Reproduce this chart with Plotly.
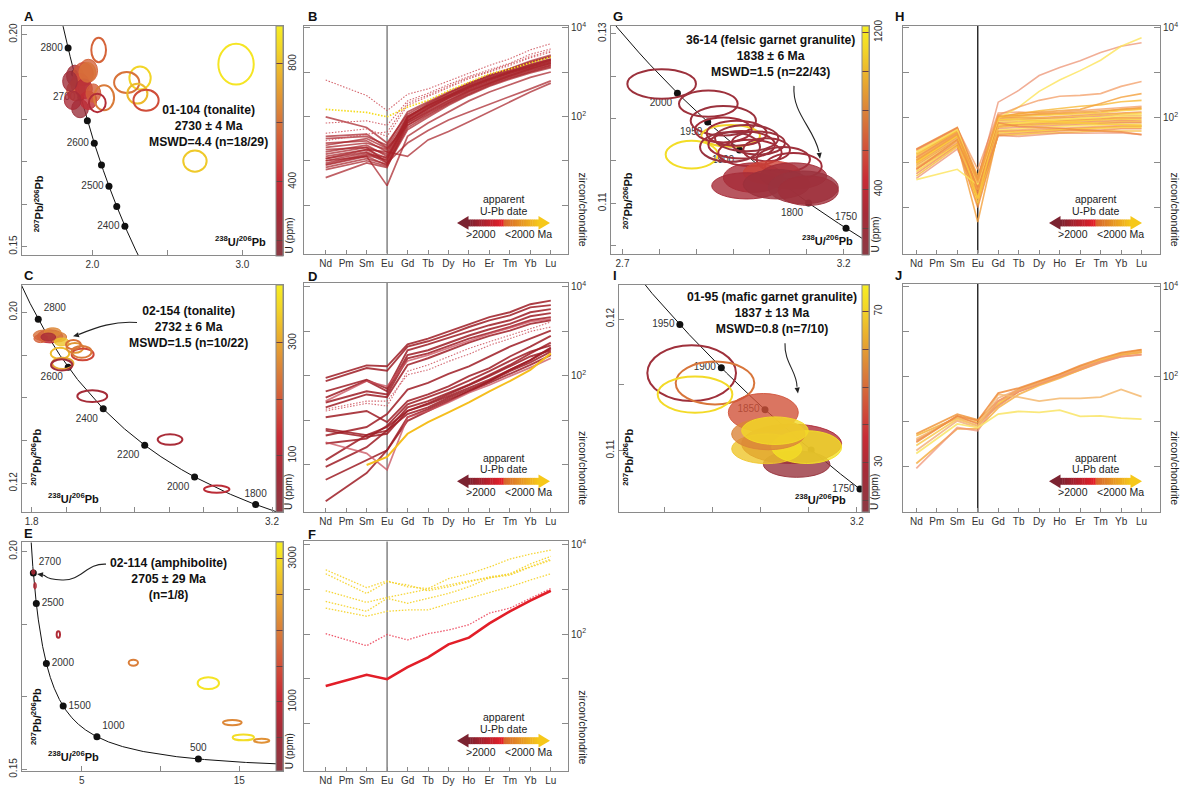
import re
import numpy as np
import plotly.graph_objects as go
from plotly.colors import sample_colorscale

W, H = 1188, 795
FONT = "Arial, Liberation Sans, Helvetica, sans-serif"
AX = "#8a8a8a"
DOT = "1.5px,1.6px"

# ======================= DATA =======================
REE_LABELS = ["Nd", "Pm", "Sm", "Eu", "Gd", "Tb", "Dy", "Ho", "Er", "Tm", "Yb", "Lu"]
MEASURED = ["Nd", "Sm", "Eu", "Gd", "Tb", "Dy", "Ho", "Er", "Tm", "Yb", "Lu"]

# REE patterns, log10(zircon/chondrite), order = MEASURED
B_SOLID = [
    [1.99, 1.75, 1.40, 2.05, 2.30, 2.52, 2.72, 2.90, 3.05, 3.22, 3.35],
    [1.55, 1.60, 1.30, 2.00, 2.25, 2.48, 2.68, 2.85, 3.00, 3.15, 3.28],
    [1.50, 1.55, 1.35, 2.10, 2.33, 2.55, 2.75, 2.93, 3.08, 3.25, 3.38],
    [1.40, 1.45, 1.20, 1.95, 2.22, 2.45, 2.65, 2.83, 2.98, 3.12, 3.25],
    [1.30, 1.40, 1.25, 1.90, 2.18, 2.42, 2.62, 2.80, 2.96, 3.10, 3.22],
    [1.20, 1.35, 1.10, 1.88, 2.15, 2.40, 2.60, 2.78, 2.94, 3.08, 3.20],
    [1.15, 1.30, 1.15, 2.00, 2.25, 2.48, 2.70, 2.88, 3.02, 3.18, 3.30],
    [1.10, 1.25, 1.05, 1.85, 2.12, 2.36, 2.58, 2.76, 2.92, 3.06, 3.18],
    [1.05, 1.20, 1.00, 1.92, 2.20, 2.44, 2.66, 2.84, 3.00, 3.14, 3.27],
    [1.00, 1.18, 0.95, 1.80, 2.08, 2.32, 2.55, 2.74, 2.90, 3.04, 3.15],
    [0.95, 1.15, 1.08, 1.98, 2.24, 2.46, 2.68, 2.86, 3.02, 3.16, 3.28],
    [0.90, 1.10, 0.90, 1.75, 2.02, 2.28, 2.50, 2.70, 2.86, 3.00, 3.12],
    [0.85, 1.05, 0.92, 1.90, 2.18, 2.42, 2.64, 2.82, 2.98, 3.12, 3.24],
    [0.80, 1.00, 0.88, 1.70, 1.98, 2.25, 2.48, 2.68, 2.84, 2.98, 3.10],
    [0.62, 0.95, 0.85, 1.85, 2.10, 2.35, 2.57, 2.75, 2.92, 3.07, 3.20],
    [1.00, 1.10, 0.44, 1.55, 1.85, 2.10, 2.35, 2.55, 2.72, 2.88, 3.00],
    [1.05, 1.25, 1.20, 1.10, 1.47, 1.66, 1.88, 2.10, 2.33, 2.55, 2.75],
    [1.25, 1.30, 0.95, 1.40, 1.68, 1.92, 2.10, 2.28, 2.45, 2.62, 2.80],
    [1.35, 1.50, 1.28, 1.80, 2.05, 2.30, 2.52, 2.72, 2.88, 3.02, 3.15],
    [0.92, 1.12, 1.02, 1.96, 2.28, 2.52, 2.74, 2.92, 3.07, 3.22, 3.35],
]
B_DOTTED = [
    [2.82, 2.47, 2.13, 2.50, 2.62, 2.80, 2.98, 3.15, 3.30, 3.50, 3.64],
    [1.85, 1.90, 1.80, 2.35, 2.52, 2.72, 2.90, 3.05, 3.20, 3.40, 3.52],
    [1.62, 1.72, 1.55, 2.25, 2.45, 2.65, 2.85, 3.00, 3.15, 3.32, 3.45],
    [1.45, 1.60, 1.65, 2.30, 2.48, 2.68, 2.88, 3.02, 3.18, 3.35, 3.48],
]
B_YOUNG = [
    [2.16, 2.09, 1.99, 2.21, 2.36, 2.58, 2.77, 2.96, 3.07, 3.21, 3.34],
]

D_SOLID = [
    [1.95, 2.23, 2.21, 2.70, 2.83, 2.99, 3.16, 3.31, 3.42, 3.60, 3.68],
    [1.88, 2.17, 2.11, 2.65, 2.77, 2.92, 3.09, 3.24, 3.35, 3.53, 3.58],
    [1.65, 1.91, 1.71, 2.57, 2.70, 2.85, 2.99, 3.13, 3.24, 3.42, 3.49],
    [1.51, 1.89, 1.65, 2.46, 2.57, 2.74, 2.90, 3.04, 3.16, 3.33, 3.40],
    [1.40, 1.65, 1.58, 2.39, 2.50, 2.67, 2.83, 2.96, 3.09, 3.24, 3.31],
    [1.29, 1.58, 1.52, 2.24, 2.39, 2.57, 2.74, 2.89, 3.01, 3.16, 3.24],
    [1.07, 1.21, 0.96, 1.43, 1.58, 1.76, 1.99, 2.17, 2.43, 2.65, 2.89],
    [0.81, 0.67, 0.77, 1.29, 1.43, 1.62, 1.80, 2.02, 2.24, 2.50, 2.74],
    [0.77, 0.63, 0.70, 1.21, 1.36, 1.54, 1.73, 1.91, 2.13, 2.35, 2.63],
    [0.48, 0.59, 0.88, 1.36, 1.52, 1.69, 1.89, 2.10, 2.33, 2.54, 2.68],
    [0.11, 0.67, 0.85, 1.21, 1.38, 1.58, 1.79, 1.99, 2.21, 2.43, 2.57],
    [-0.04, 0.40, 0.77, 1.14, 1.29, 1.51, 1.69, 1.88, 2.10, 2.30, 2.54],
    [-0.33, 0.11, 0.33, 0.99, 1.21, 1.43, 1.65, 1.84, 2.04, 2.24, 2.46],
    [-0.81, -0.18, 0.33, 1.07, 1.25, 1.47, 1.65, 1.88, 2.13, 2.35, 2.61],
    [0.66, 0.85, 1.14, 1.69, 1.84, 2.04, 2.21, 2.43, 2.65, 2.83, 3.01],
]
D_LIGHT = [
    [1.43, 1.88, 1.76, 2.33, 2.46, 2.62, 2.79, 2.94, 3.07, 3.21, 3.27],
    [0.51, 0.26, -0.11, 1.07, 1.21, 1.40, 1.62, 1.79, 1.99, 2.18, 2.39],
]
D_DOTTED = [
    [1.21, 1.38, 1.32, 2.10, 2.24, 2.43, 2.61, 2.76, 2.90, 3.05, 3.20],
    [1.25, 1.43, 1.43, 2.02, 2.13, 2.32, 2.48, 2.68, 2.83, 2.99, 3.09],
]
D_YOUNG = [
    [None, 0.00, 0.18, 0.70, 0.96, 1.18, 1.40, 1.65, 1.88, 2.13, 2.50],
]

F_YOUNG_DOTTED = [
    [3.44, 3.04, 3.19, 3.06, 3.02, 3.24, 3.35, 3.50, 3.68, 3.79, 3.88],
    [3.35, 2.91, 3.17, 3.10, 2.97, 3.06, 3.17, 3.28, 3.35, 3.57, 3.74],
    [2.97, 2.71, 2.82, 2.91, 3.00, 3.10, 3.19, 3.26, 3.34, 3.51, 3.68],
    [2.73, 2.51, 2.80, 2.69, 2.80, 2.91, 3.06, 3.26, 3.32, 3.50, 3.65],
    [2.58, 2.40, 2.51, 2.54, 2.54, 2.68, 2.80, 2.93, 3.06, 3.21, 3.35],
]
F_OLD_DOTTED = [
    [2.01, 1.74, 1.99, 1.87, 2.01, 2.09, 2.21, 2.47, 2.58, 2.80, 3.02],
]
F_OLD_SOLID = [
    [0.84, 1.09, 0.99, 1.26, 1.48, 1.77, 1.92, 2.24, 2.51, 2.75, 2.97],
]

H_LINES = [
    [1.30, 1.78, 0.70, 2.05, 2.05, 2.06, 2.08, 2.10, 2.12, 2.18, 2.22],
    [1.25, 1.75, 0.55, 2.00, 2.02, 2.04, 2.05, 2.08, 2.10, 2.15, 2.18],
    [1.20, 1.72, 0.60, 1.98, 2.00, 2.00, 2.02, 2.05, 2.08, 2.10, 2.12],
    [1.15, 1.70, 0.50, 1.95, 1.98, 1.98, 2.00, 2.02, 2.05, 2.08, 2.10],
    [1.10, 1.68, 0.45, 1.92, 1.95, 1.96, 1.98, 2.00, 2.02, 2.05, 2.05],
    [1.08, 1.65, 0.65, 1.90, 1.92, 1.95, 1.96, 1.98, 2.00, 2.02, 2.03],
    [1.05, 1.62, 0.40, 1.88, 1.90, 1.92, 1.94, 1.96, 1.98, 2.00, 2.00],
    [1.02, 1.60, 0.35, 1.85, 1.88, 1.90, 1.92, 1.94, 1.96, 1.98, 1.98],
    [1.00, 1.58, 0.55, 1.82, 1.86, 1.88, 1.90, 1.92, 1.94, 1.96, 1.95],
    [0.98, 1.55, 0.30, 1.80, 1.84, 1.86, 1.88, 1.90, 1.92, 1.93, 1.92],
    [0.95, 1.52, 0.25, 1.78, 1.82, 1.84, 1.86, 1.87, 1.88, 1.90, 1.90],
    [0.92, 1.50, 0.20, 1.75, 1.78, 1.80, 1.82, 1.84, 1.86, 1.88, 1.88],
    [0.90, 1.48, 0.10, 1.72, 1.75, 1.78, 1.80, 1.82, 1.84, 1.85, 1.85],
    [0.88, 1.45, 0.15, 1.70, 1.72, 1.75, 1.76, 1.78, 1.80, 1.82, 1.82],
    [0.85, 1.42, -0.32, 1.68, 1.70, 1.72, 1.74, 1.76, 1.78, 1.80, 1.80],
    [0.80, 1.40, 0.05, 1.65, 1.68, 1.70, 1.72, 1.74, 1.75, 1.78, 1.78],
    [0.75, 1.38, 0.00, 1.62, 1.65, 1.68, 1.70, 1.72, 1.72, 1.75, 1.75],
    [0.70, 1.35, 0.20, 1.60, 1.62, 1.65, 1.66, 1.68, 1.70, 1.70, 1.70],
    [0.65, 1.30, 0.30, 1.60, 1.58, 1.62, 1.65, 1.65, 1.66, 1.66, 1.62],
    [0.62, 0.85, 0.50, 1.85, 1.88, 1.92, 1.95, 1.98, 2.00, 2.05, 2.08],
    [1.28, 1.76, 0.85, 2.10, 2.12, 2.10, 2.12, 2.15, 2.18, 2.22, 2.25],
    [1.12, 1.66, 0.40, 2.02, 2.04, 2.08, 2.10, 2.12, 2.15, 2.18, 2.20],
    [1.00, 1.60, 0.20, 1.95, 1.95, 1.92, 1.90, 1.88, 1.85, 1.85, 1.82],
    [0.85, 1.50, 0.45, 1.88, 1.80, 1.78, 1.76, 1.72, 1.70, 1.68, 1.62],
    [1.18, 1.70, 0.65, 2.00, 2.08, 2.15, 2.20, 2.25, 2.28, 2.35, 2.38],
    [1.29, 1.77, 0.63, 2.34, 2.60, 2.93, 3.11, 3.26, 3.44, 3.58, 3.66],
    [1.21, 1.73, 0.52, 1.98, 2.23, 2.58, 2.83, 3.04, 3.27, 3.58, 3.77],
    [1.10, 1.65, 0.55, 2.05, 2.23, 2.38, 2.47, 2.49, 2.53, 2.69, 2.80],
    [1.05, 1.62, 0.60, 2.01, 2.09, 2.12, 2.15, 2.18, 2.31, 2.45, 2.53],
]

J_LINES = [
    [0.72, 1.16, 1.03, 1.45, 1.71, 1.87, 2.04, 2.22, 2.37, 2.51, 2.59],
    [0.68, 1.08, 0.97, 1.38, 1.67, 1.83, 2.00, 2.18, 2.34, 2.48, 2.55],
    [0.57, 1.12, 0.94, 1.34, 1.66, 1.82, 1.98, 2.15, 2.31, 2.44, 2.49],
    [0.46, 1.05, 0.90, 1.41, 1.69, 1.85, 2.02, 2.20, 2.37, 2.51, 2.56],
    [0.35, 1.01, 0.86, 1.52, 1.71, 1.88, 2.04, 2.21, 2.34, 2.49, 2.55],
    [0.06, 0.83, 0.83, 1.30, 1.60, 1.80, 1.96, 2.15, 2.33, 2.48, 2.53],
    [-0.05, 0.86, 0.79, 1.45, 1.67, 1.83, 2.00, 2.17, 2.33, 2.44, 2.48],
    [0.61, 1.08, 0.90, 1.60, 1.54, 1.45, 1.51, 1.51, 1.54, 1.71, 1.55],
    [0.28, 0.94, 0.86, 1.16, 1.22, 1.20, 1.25, 1.11, 1.12, 1.07, 1.05],
    [0.53, 1.12, 1.01, 1.63, 1.74, 1.89, 2.05, 2.24, 2.40, 2.53, 2.60],
]

# Tera-Wasserburg constants
LAMBDA_238 = 1.55125e-4   # 1/Ma
LAMBDA_235 = 9.8485e-4    # 1/Ma
U238_U235 = 137.88

# Concordia age markers
A_AGES = [2400, 2450, 2500, 2550, 2600, 2650, 2700, 2750, 2800]
A_AGE_TEXT = ["2400", "", "2500", "", "2600", "", "2700", "", "2800"]
C_AGES = [1800, 2000, 2200, 2400, 2600, 2800]
C_AGE_TEXT = ["1800", "2000", "2200", "2400", "2600", "2800"]
E_AGES = [500, 1000, 1500, 2000, 2500, 2700]
E_AGE_TEXT = ["500", "1000", "1500", "2000", "2500", "2700"]
G_AGES = [1750, 1800, 1850, 1900, 1950, 2000]
G_AGE_TEXT = ["1750", "1800", "", "1900", "1950", "2000"]
I_AGES = [1750, 1800, 1850, 1900, 1950]
I_AGE_TEXT = ["1750", "", "1850", "1900", "1950"]

# Error ellipses: centre (238U/206Pb, 207Pb/206Pb), half-axes, U (ppm), filled?
A_X = [1.884, 1.973, 1.940, 1.918, 1.891, 1.944, 1.918, 1.973, 2.007, 1.869, 1.851, 1.967,
       2.958, 2.042, 2.318, 2.229, 2.300, 2.358, 2.078, 2.033, 2.684]
A_Y = [0.19031, 0.19147, 0.19070, 0.18837, 0.18682, 0.18721, 0.18256, 0.18450, 0.18620, 0.18450, 0.18899, 0.19109,
       0.19302, 0.19636, 0.18977, 0.18868, 0.18605, 0.18450, 0.18512, 0.18388, 0.17016]
A_SX = [0.056, 0.062, 0.067, 0.062, 0.062, 0.056, 0.056, 0.056, 0.049, 0.056, 0.049, 0.056,
        0.118, 0.049, 0.071, 0.084, 0.067, 0.084, 0.067, 0.056, 0.078]
A_SY = [0.00248, 0.00271, 0.00271, 0.00248, 0.00248, 0.00233, 0.00217, 0.00217, 0.00217, 0.00217, 0.00233, 0.00233,
        0.0048, 0.00287, 0.00271, 0.00248, 0.00233, 0.00248, 0.00295, 0.00217, 0.00248]
A_U = [250, 560, 520, 480, 530, 350, 230, 380, 540, 300, 260, 600,
       900, 560, 850, 600, 780, 500, 620, 330, 820]
A_FILLED = [1] * 12 + [0] * 9

C_X = [1.907, 1.868, 1.950, 1.975, 1.852, 1.922, 1.897,
       1.965, 2.052, 2.097, 2.043, 1.981, 1.975, 2.153, 2.606, 2.878, 2.091]
C_Y = [0.18877, 0.18923, 0.18846, 0.18615, 0.18769, 0.19077, 0.18846,
       0.18077, 0.18338, 0.18031, 0.18492, 0.17615, 0.17538, 0.16077, 0.14046, 0.11723, 0.18154]
C_SX = [0.074, 0.058, 0.054, 0.043, 0.039, 0.049, 0.043,
        0.054, 0.049, 0.064, 0.043, 0.062, 0.062, 0.087, 0.072, 0.074, 0.058]
C_SY = [0.00308, 0.00246, 0.00231, 0.00185, 0.00185, 0.0020, 0.00185,
        0.00262, 0.00231, 0.00277, 0.00215, 0.00262, 0.00262, 0.00277, 0.00246, 0.00169, 0.00277]
C_U = [120, 230, 250, 340, 210, 260, 80,
       330, 280, 170, 230, 300, 60, 70, 80, 110, 240]
C_FILLED = [1] * 7 + [0] * 10

E_X = [1.922, 2.028, 3.509, 8.271, 13.033, 14.557, 15.255, 16.419]
E_Y = [0.18588, 0.17638, 0.14289, 0.12344, 0.10941, 0.08226, 0.07208, 0.06982]
E_SX = [0.106, 0.085, 0.106, 0.296, 0.677, 0.593, 0.677, 0.487]
E_SY = [0.00158, 0.00226, 0.00226, 0.00204, 0.00407, 0.00181, 0.00204, 0.00136]
E_U = [800, 750, 750, 2000, 3100, 2100, 3000, 2200]
E_FILLED = [1, 1, 0, 0, 0, 0, 0, 0]

G_X = [2.7062, 2.8328, 2.8735, 2.7876, 2.8934, 2.9096, 2.9368, 2.9232, 2.9684, 2.9910, 2.8916, 2.9458,
       3.0362, 3.0634, 2.8735, 2.9549, 3.0046, 2.9368, 3.0634, 3.0181, 3.0905, 3.1040]
G_Y = [0.12408, 0.12175, 0.11973, 0.11574, 0.11795, 0.11826, 0.11768, 0.11690, 0.11710, 0.11632, 0.11663, 0.11594,
       0.11516, 0.11438, 0.11865, 0.11303, 0.11361, 0.11206, 0.11322, 0.11225, 0.11187, 0.11148]
G_SX = [0.0931, 0.0796, 0.0886, 0.0705, 0.0796, 0.0814, 0.0859, 0.0904, 0.0723, 0.0633, 0.0814, 0.0859,
        0.0723, 0.0769, 0.0769, 0.0814, 0.0769, 0.0949, 0.0904, 0.0904, 0.0949, 0.0814]
G_SY = [0.00174, 0.00155, 0.00174, 0.00163, 0.00128, 0.00147, 0.00155, 0.00163, 0.00136, 0.00136, 0.00174, 0.00155,
        0.00147, 0.00155, 0.00147, 0.00174, 0.00136, 0.00155, 0.00155, 0.00174, 0.00194, 0.00174]
G_U = [200, 210, 190, 1150, 1100, 230, 180, 240, 200, 220, 170, 260,
       210, 230, 250, 300, 550, 280, 260, 200, 180, 220]
G_FILLED = [0] * 15 + [1] * 7

I_X = [2.8556, 2.9042, 2.8626, 3.0639, 3.0743, 3.0049, 3.0119, 3.0952, 3.0153, 3.0292]
I_Y = [0.11589, 0.11514, 0.11426, 0.11051, 0.10896, 0.11289, 0.11013, 0.11026, 0.11126, 0.11151]
I_SX = [0.0924, 0.0819, 0.0778, 0.1042, 0.0694, 0.0729, 0.0729, 0.0729, 0.0764, 0.0694]
I_SY = [0.00213, 0.00163, 0.00138, 0.0015, 0.001, 0.00145, 0.00113, 0.00125, 0.0012, 0.00105]
I_U = [25, 52, 72, 30, 22, 45, 68, 74, 55, 72]
I_FILLED = [0, 0, 0, 1, 1, 1, 1, 1, 1, 1]

# ======================= STYLE / LAYOUT =======================
U_SCALE = [[0.0, "rgb(140,58,68)"], [0.18, "rgb(166,44,56)"], [0.33, "rgb(200,44,54)"],
           [0.48, "rgb(210,86,58)"], [0.62, "rgb(218,128,58)"], [0.78, "rgb(234,176,46)"],
           [0.9, "rgb(242,214,40)"], [1.0, "rgb(247,238,34)"]]

BOX = {  # left, top, right, bottom (px)
    1: (22, 21, 283, 254), 2: (304, 21, 568, 252),
    3: (22, 284, 283, 514), 4: (304, 282, 568, 514),
    5: (22, 545, 283, 777), 6: (304, 544, 568, 777),
    7: (611, 21, 869, 253), 8: (903, 21, 1160, 252),
    9: (619, 284, 869, 514), 10: (903, 283, 1160, 514),
}

fig = go.Figure()
layout = dict(width=W, height=H, margin=dict(l=0, r=0, t=0, b=0),
              paper_bgcolor="white", plot_bgcolor="white", showlegend=False,
              font=dict(family=FONT, size=10, color="#333"))
shapes, annotations = [], []


def refs(n):
    s = "" if n == 1 else str(n)
    return "xaxis" + s, "yaxis" + s, "x" + s, "y" + s


def domain(n):
    l, t, r, b = BOX[n]
    return [l / W, r / W], [1 - b / H, 1 - t / H]


def pp(px, py):
    return px / W, 1 - py / H


def ann(px, py, text, size=10, xanchor="center", yanchor="middle", angle=0, color="#222"):
    x, y = pp(px, py)
    annotations.append(dict(x=x, y=y, xref="paper", yref="paper", text=text, showarrow=False,
                            xanchor=xanchor, yanchor=yanchor, textangle=angle,
                            font=dict(family=FONT, size=size, color=color)))


def ucolor(u, lo, hi, alpha=1.0):
    t = min(max((u - lo) / (hi - lo), 0), 1)
    c = sample_colorscale(U_SCALE, [t])[0]
    r, g, b = [float(v) for v in re.findall(r"[\d.]+", c)[:3]]
    return f"rgba({int(round(r))},{int(round(g))},{int(round(b))},{alpha})"


def tw(t):
    e8 = np.exp(LAMBDA_238 * np.asarray(t, float)) - 1
    e5 = np.exp(LAMBDA_235 * np.asarray(t, float)) - 1
    return 1 / e8, e5 / e8 / U238_U235


def concordia_panel(n, xr, yr, xt, xtt, yt, ytt, tmin, tmax, ages, agetext, agepos,
                    ex, ey, esx, esy, eu, efill, lo, hi, cbt, cbtt, ylab_pos, xlab_pos):
    xa, ya, xref, yref = refs(n)
    dx, dy = domain(n)
    common = dict(showline=True, mirror=True, linecolor=AX, linewidth=1, ticks="inside", ticklen=5,
                  tickcolor=AX, showgrid=False, zeroline=False,
                  tickfont=dict(family=FONT, size=10, color="#333"))
    layout[xa] = dict(domain=dx, range=xr, anchor=yref, tickmode="array", tickvals=xt, ticktext=xtt, **common)
    layout[ya] = dict(domain=dy, range=yr, anchor=xref, tickmode="array", tickvals=yt, ticktext=ytt,
                      tickangle=-90, **common)
    tt = np.linspace(tmin, tmax, 3000)
    cx, cy = tw(tt)
    fig.add_trace(go.Scatter(x=cx, y=cy, mode="lines", line=dict(color="#111", width=1),
                             xaxis=xref, yaxis=yref, hoverinfo="skip"))
    mx, my = tw(ages)
    fig.add_trace(go.Scatter(x=mx, y=my, mode="markers+text", text=agetext, textposition=agepos,
                             marker=dict(color="#111", size=7), cliponaxis=False,
                             textfont=dict(family=FONT, size=10, color="#333"),
                             xaxis=xref, yaxis=yref, hoverinfo="skip"))
    for x, y, sx, sy, u, f in zip(ex, ey, esx, esy, eu, efill):
        shapes.append(dict(type="circle", xref=xref, yref=yref, x0=x - sx, x1=x + sx, y0=y - sy, y1=y + sy,
                           line=dict(color=ucolor(u, lo, hi, 0.9 if f else 1.0), width=1.0 if f else 2.0),
                           fillcolor=ucolor(u, lo, hi, 0.8) if f else "rgba(0,0,0,0)", layer="above"))
    # colour bar (U ppm)
    l, t, r, b = BOX[n]
    fig.add_trace(go.Scatter(x=[None], y=[None], mode="markers", xaxis=xref, yaxis=yref, hoverinfo="skip",
                             marker=dict(color=[lo], cmin=lo, cmax=hi, colorscale=U_SCALE, showscale=True,
                                         colorbar=dict(x=(r - 7) / W, xanchor="left", xpad=0, ypad=0,
                                                       y=1 - (t + b) / 2 / H, yanchor="middle",
                                                       len=(b - t) / H, lenmode="fraction",
                                                       thickness=7, thicknessmode="pixels",
                                                       outlinewidth=1, outlinecolor=AX,
                                                       tickmode="array", tickvals=cbt, ticktext=cbtt,
                                                       ticks="inside", ticklen=7, tickcolor="#6a4040",
                                                       tickangle=-90,
                                                       tickfont=dict(family=FONT, size=10, color="#333")))))
    ann(r + 6, b, "U (ppm)", size=10, xanchor="center", yanchor="bottom", angle=-90)
    ann(ylab_pos[0], ylab_pos[1], "<b><sup>207</sup>Pb/<sup>206</sup>Pb</b>", size=11,
        xanchor="center", yanchor="bottom", angle=-90, color="#111")
    ann(xlab_pos[0], xlab_pos[1], "<b><sup>238</sup>U/<sup>206</sup>Pb</b>", size=11, color="#111")


def ree_panel(n, xr, yr, groups, eu_color):
    xa, ya, xref, yref = refs(n)
    dx, dy = domain(n)
    layout[xa] = dict(domain=dx, range=xr, anchor=yref, tickmode="array", tickvals=list(range(12)),
                      ticktext=REE_LABELS, ticks="inside", ticklen=4, tickcolor=AX, showline=True,
                      mirror=True, linecolor=AX, showgrid=False, zeroline=False,
                      tickfont=dict(family=FONT, size=10, color="#333"))
    layout[ya] = dict(domain=dy, type="log", range=yr, anchor=xref, side="right", tickmode="array",
                      tickvals=[1, 10, 100, 1000, 10000],
                      ticktext=["", "", "10<sup>2</sup>", "", "10<sup>4</sup>"],
                      ticks="inside", ticklen=6, tickcolor=AX, showline=True, mirror="ticks",
                      linecolor=AX, showgrid=False, zeroline=False,
                      tickfont=dict(family=FONT, size=10, color="#333"))
    xs = [REE_LABELS.index(e) for e in MEASURED]
    for lines, colors, width, dash in groups:
        for i, vals in enumerate(lines):
            ys = [None if v is None else 10 ** v for v in vals]
            fig.add_trace(go.Scatter(x=xs, y=ys, mode="lines", connectgaps=False,
                                     line=dict(color=colors[i % len(colors)], width=width, dash=dash),
                                     xaxis=xref, yaxis=yref, hoverinfo="skip"))
    shapes.append(dict(type="line", xref=xref, yref=yref + " domain", x0=3, x1=3, y0=0, y1=1,
                       line=dict(color=eu_color, width=1.4), layer="below"))
    l, t, r, b = BOX[n]
    ann(r + 15, b - 5, "zircon/chondrite", size=10.5, xanchor="center", yanchor="bottom", angle=90)
    # date legend arrow
    rt = r - 18
    lt = rt - 93
    cy = b - 31
    head, bh, hh = 11, 3.5, 7
    bx0, bx1, mid = lt + head, rt - head, (lt + rt) / 2
    c_old = [(123, 35, 49), (232, 32, 42)]
    c_young = [(214, 98, 46), (246, 200, 26)]
    nseg = 32
    for k in range(nseg):
        a = bx0 + (bx1 - bx0) * k / nseg
        z = bx0 + (bx1 - bx0) * (k + 1) / nseg + 0.4
        pm = (a + z) / 2
        if pm < mid:
            f = (pm - bx0) / (mid - bx0)
            c0, c1 = c_old
        else:
            f = (pm - mid) / (bx1 - mid)
            c0, c1 = c_young
        col = "rgb(%d,%d,%d)" % tuple(int(c0[j] + (c1[j] - c0[j]) * f) for j in range(3))
        x0, y0 = pp(a, cy - bh)
        x1, y1 = pp(z, cy + bh)
        shapes.append(dict(type="rect", xref="paper", yref="paper", x0=x0, x1=x1, y0=y1, y1=y0,
                           line=dict(width=0), fillcolor=col, layer="above"))
    for tip, base, col in [(lt, bx0 + 0.5, "rgb(123,35,49)"), (rt, bx1 - 0.5, "rgb(246,200,26)")]:
        p1, p2, p3 = pp(tip, cy), pp(base, cy - hh), pp(base, cy + hh)
        shapes.append(dict(type="path", xref="paper", yref="paper",
                           path=f"M {p1[0]},{p1[1]} L {p2[0]},{p2[1]} L {p3[0]},{p3[1]} Z",
                           fillcolor=col, line=dict(width=0), layer="above"))
    ann(mid, b - 55, "apparent", size=10.5)
    ann(mid, b - 43, "U-Pb date", size=10.5)
    ann(lt + 24, b - 20, "&gt;2000", size=10.5)
    ann(rt - 22, b - 20, "&lt;2000 Ma", size=10.5)


def curved_arrow(d_px, tip, back):
    parts = d_px.split()
    out = []
    for p in parts:
        if "," in p:
            a, c = p.split(",")
            x, y = pp(float(a), float(c))
            out.append(f"{x},{y}")
        else:
            out.append(p)
    shapes.append(dict(type="path", xref="paper", yref="paper", path=" ".join(out),
                       line=dict(color="#222", width=1.1), layer="above"))
    tx, ty = tip
    bx, by = back
    dxp, dyp = tx - bx, ty - by
    L = (dxp ** 2 + dyp ** 2) ** 0.5
    ux, uy = dxp / L, dyp / L
    nx, ny = -uy, ux
    bsx, bsy = tx - ux * 6, ty - uy * 6
    p1 = pp(tx, ty)
    p2 = pp(bsx + nx * 2.6, bsy + ny * 2.6)
    p3 = pp(bsx - nx * 2.6, bsy - ny * 2.6)
    shapes.append(dict(type="path", xref="paper", yref="paper",
                       path=f"M {p1[0]},{p1[1]} L {p2[0]},{p2[1]} L {p3[0]},{p3[1]} Z",
                       fillcolor="#222", line=dict(width=0), layer="above"))


# ---------- concordia panels ----------
concordia_panel(1, [1.531, 3.271], [0.14791, 0.20209], [2.0, 2.5, 3.0], ["2.0", "", "3.0"],
                [0.15, 0.16, 0.17, 0.18, 0.19, 0.20], ["0.15", "", "", "", "", "0.20"],
                2200, 3000, A_AGES, A_AGE_TEXT, "middle left",
                A_X, A_Y, A_SX, A_SY, A_U, A_FILLED, 150, 930,
                [200, 400, 600, 800], ["", "400", "", "800"], (39, 233), (240, 239))
concordia_panel(3, [1.7437, 3.264], [0.10662, 0.21277],
                [1.8, 2.0, 2.2, 2.4, 2.6, 2.8, 3.0, 3.2], ["1.8", "", "", "", "", "", "", "3.2"],
                [0.12, 0.14, 0.16, 0.18, 0.20], ["0.12", "", "", "", "0.20"],
                1600, 3000, C_AGES, C_AGE_TEXT,
                ["top center", "bottom left", "bottom left", "bottom left", "bottom left", "top right"],
                C_X, C_Y, C_SX, C_SY, C_U, C_FILLED, 0, 403,
                [100, 200, 300], ["100", "", "300"], (36, 490), (73, 500))
concordia_panel(5, [1.2024, 17.774], [0.04877, 0.20624], [5, 10, 15], ["5", "", "15"],
                [0.05, 0.10, 0.15, 0.20], ["0.15", "", "", "0.20"],
                200, 3000, E_AGES, E_AGE_TEXT,
                ["top center", "top right", "middle right", "middle right", "middle right", "top right"],
                E_X, E_Y, E_SX, E_SY, E_U, E_FILLED, 30, 3230,
                [500, 1000, 1500, 2000, 2500, 3000], ["", "1000", "", "", "", "3000"], (36, 753), (73, 762))
concordia_panel(7, [2.5688, 3.2686], [0.10396, 0.13094],
                [2.6, 2.7, 2.8, 2.9, 3.0, 3.1, 3.2], ["2.7", "", "", "", "", "", "3.2"],
                [0.105, 0.11, 0.115, 0.12, 0.125, 0.13], ["", "0.11", "", "", "", "0.13"],
                1650, 2200, G_AGES, G_AGE_TEXT,
                ["top center", "bottom left", "bottom left", "bottom left", "bottom left", "bottom left"],
                G_X, G_Y, G_SX, G_SY, G_U, G_FILLED, 68, 1235,
                [200, 400, 600, 800, 1000, 1200], ["", "400", "", "", "", "1200"], (628, 230), (827, 238))
concordia_panel(9, [2.7042, 3.2251], [0.10533, 0.12259],
                [2.7, 2.8, 2.9, 3.0, 3.1, 3.2], ["2.7", "", "", "", "", "3.2"],
                [0.11, 0.115, 0.12], ["0.11", "", "0.12"],
                1650, 2100, I_AGES, I_AGE_TEXT, "middle left",
                I_X, I_Y, I_SX, I_SY, I_U, I_FILLED, 17, 77,
                [20, 30, 40, 50, 60, 70], ["", "30", "", "", "", "70"], (628, 490), (820, 501))

# ---------- REE panels ----------
RED = ["rgba(168,34,42,0.72)"]
RED_D = ["rgba(158,28,36,0.85)"]
ree_panel(2, [-1.06, 11.84], [-1.09, 4.044], [
    (B_SOLID, RED, 1.7, "solid"),
    (B_DOTTED, ["rgba(205,75,85,0.85)"], 1.1, DOT),
    (B_YOUNG, ["rgba(245,220,30,1)"], 1.7, DOT),
], "#7a7a7a")
ree_panel(4, [-1.06, 11.84], [-1.05, 4.073], [
    (D_SOLID, RED_D, 1.9, "solid"),
    (D_LIGHT, ["rgba(200,80,92,0.75)"], 1.7, "solid"),
    (D_DOTTED, ["rgba(205,80,90,0.85)"], 1.1, DOT),
    (D_YOUNG, ["rgba(245,190,30,1)"], 2.0, "solid"),
], "#7a7a7a")
ree_panel(6, [-1.06, 11.84], [-1.07, 4.073], [
    (F_YOUNG_DOTTED, ["rgba(245,212,45,0.95)"], 1.3, DOT),
    (F_OLD_DOTTED, ["rgba(236,70,92,0.9)"], 1.3, DOT),
    (F_OLD_SOLID, ["rgba(226,30,40,1)"], 2.6, "solid"),
], "#7a7a7a")
H_PAL = ["rgba(244,160,60,0.8)", "rgba(250,205,60,0.8)", "rgba(238,135,65,0.72)",
         "rgba(248,185,55,0.8)", "rgba(232,120,80,0.6)", "rgba(252,228,90,0.8)", "rgba(242,150,90,0.7)"]
ree_panel(8, [-0.65, 11.9], [-1.02, 4.037], [(H_LINES, H_PAL, 1.6, "solid")], "#222")
J_PAL = ["rgba(240,150,60,0.85)", "rgba(245,180,60,0.85)", "rgba(235,130,80,0.75)",
         "rgba(248,200,70,0.8)", "rgba(240,165,110,0.75)", "rgba(246,175,70,0.85)",
         "rgba(240,150,120,0.75)", "rgba(245,185,110,0.85)", "rgba(250,230,110,0.9)", "rgba(238,140,60,0.85)"]
ree_panel(10, [-0.65, 11.9], [-1.02, 4.059], [(J_LINES, J_PAL, 1.8, "solid")], "#222")

# ---------- text ----------
for letter, (px, py) in {"A": (22, 12), "B": (306, 12), "C": (22, 274), "D": (306, 275), "E": (22, 536),
                         "F": (306, 537), "G": (611, 12), "H": (893, 12), "I": (611, 274),
                         "J": (893, 274)}.items():
    ann(px, py, f"<b>{letter}</b>", size=13, xanchor="left", color="#111")


def block(lines):
    return "<br>".join(f"<b>{s}</b>" for s in lines)


ann(208, 123, block(["01-104 (tonalite)", "2730 ± 4 Ma", "MSWD=4.4 (n=18/29)"]), size=12.2, color="#111")
ann(188, 327, block(["02-154 (tonalite)", "2732 ± 6 Ma", "MSWD=1.5 (n=10/22)"]), size=12.2, color="#111")
ann(168, 582, block(["02-114 (amphibolite)", "2705 ± 29 Ma", "(n=1/8)"]), size=12.2, color="#111")
ann(770, 52, block(["36-14 (felsic garnet granulite)", "1838 ± 6 Ma", "MSWD=1.5 (n=22/43)"]), size=12.2, color="#111")
ann(772, 312, block(["01-95 (mafic garnet granulite)", "1837 ± 13 Ma", "MSWD=0.8 (n=7/10)"]), size=12.2, color="#111")

curved_arrow("M 137,322 C 115,320 96,327 79,334", (73, 336), (80, 334))
curved_arrow("M 106,567 C 86,566 82,584 62,583 S 48,579 43,578", (37, 577), (44, 578))
curved_arrow("M 794,82 C 792,110 814,125 819,149", (820, 156), (819, 149))
curved_arrow("M 785,343 C 784,362 797,372 797,387", (798, 394), (797, 387))

layout["shapes"] = shapes
layout["annotations"] = annotations
fig.update_layout(**layout)
fig.write_html("out.html")
